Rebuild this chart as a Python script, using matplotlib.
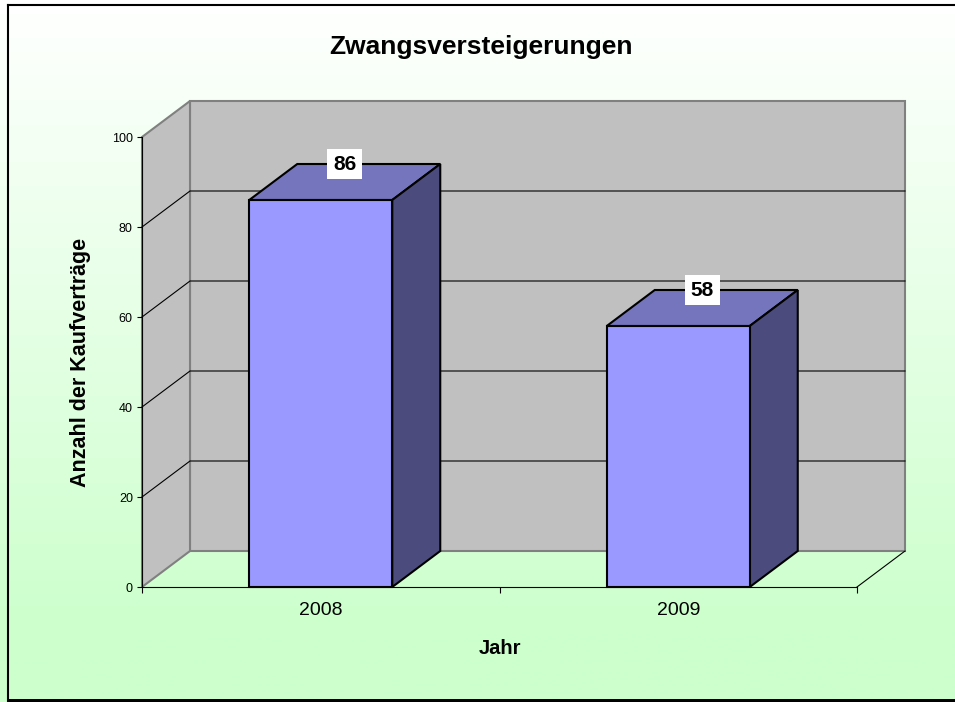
import numpy as np
import matplotlib
matplotlib.use('Agg')
import matplotlib.pyplot as plt
from matplotlib.patches import Polygon, Rectangle
from matplotlib.lines import Line2D

# ---- data ----
years = ['2008', '2009']
counts = [86, 58]
y_ticks = [0, 20, 40, 60, 80, 100]
title = 'Zwangsversteigerungen'
x_label = 'Jahr'
y_label = 'Anzahl der Kaufverträge'

plt.rcParams['font.family'] = ['Liberation Sans', 'DejaVu Sans']

W, H = 955, 702
fig = plt.figure(figsize=(W / 100, H / 100), dpi=100)

# ---- background gradient ----
bg = fig.add_axes([0, 0, 1, 1], zorder=-10)
g = np.linspace(0, 1, 256)[:, None, None]
g = np.clip(g / 0.9, 0, 1)
top_c = np.array([1.0, 1.0, 1.0])
bot_c = np.array([0xCC / 255, 1.0, 0xCC / 255])
img = top_c * (1 - g) + bot_c * g
bg.imshow(img, aspect='auto', extent=[0, 1, 0, 1], origin='upper')
bg.set_xlim(0, 1)
bg.set_ylim(0, 1)
bg.axis('off')

# chart border
fig.add_artist(Line2D([7.5 / W, 7.5 / W], [0, 1 - 4.5 / H], color='black', lw=1.5,
                      transform=fig.transFigure))
fig.add_artist(Line2D([7.5 / W, 1], [1 - 4.5 / H, 1 - 4.5 / H], color='black', lw=1.5,
                      transform=fig.transFigure))
fig.add_artist(Rectangle((7 / W, 0), 1, 3 / H, facecolor='black', edgecolor='none',
                         transform=fig.transFigure))

# ---- main axes (front plane) ----
ax = fig.add_axes([142 / W, 1 - 587 / H, 715 / W, 450 / H])
ax.set_xlim(0, len(years))
ax.set_ylim(y_ticks[0], y_ticks[-1])
ax.patch.set_visible(False)

DX = 48 / (715 / len(years))   # depth offset in category units
DY = 36 / (450 / y_ticks[-1])  # depth offset in value units
ymax = y_ticks[-1]
xmax = len(years)

wall_fc = '#C0C0C0'
wall_ec = '#808080'
# back wall
ax.add_patch(Polygon([(DX, DY), (xmax + DX, DY), (xmax + DX, ymax + DY), (DX, ymax + DY)],
                     closed=True, facecolor=wall_fc, edgecolor=wall_ec, lw=1.5,
                     clip_on=False, zorder=1))
# left wall
ax.add_patch(Polygon([(0, 0), (DX, DY), (DX, ymax + DY), (0, ymax)],
                     closed=True, facecolor=wall_fc, edgecolor=wall_ec, lw=1.5,
                     clip_on=False, zorder=1))
# gridlines
for t in y_ticks[1:-1]:
    ax.plot([0, DX, xmax + DX], [t, t + DY, t + DY], color='black', lw=0.8,
            clip_on=False, zorder=2)
# floor right edge
ax.plot([xmax, xmax + DX], [0, DY], color='black', lw=0.8, clip_on=False, zorder=2)

# ---- bars ----
xpos = np.arange(len(years)) + 0.5
bw = 0.4
front_c = '#9999FF'
top_col = '#7575BD'
side_col = '#4B4B7E'
ax.bar(xpos, counts, width=bw, color=front_c, edgecolor='black', lw=1.5, zorder=5,
       clip_on=False)
for x, v in zip(xpos, counts):
    l, r = x - bw / 2, x + bw / 2
    ax.add_patch(Polygon([(l, v), (r, v), (r + DX, v + DY), (l + DX, v + DY)], closed=True,
                         facecolor=top_col, edgecolor='black', lw=1.5, clip_on=False,
                         zorder=4, joinstyle='miter'))
    ax.add_patch(Polygon([(r, 0), (r + DX, DY), (r + DX, v + DY), (r, v)], closed=True,
                         facecolor=side_col, edgecolor='black', lw=1.5, clip_on=False,
                         zorder=4, joinstyle='miter'))
    ax.text(x + DX / 2, v + DY, str(v), ha='center', va='center', fontsize=15,
            fontweight='bold', zorder=6,
            bbox=dict(boxstyle='square,pad=0.28', facecolor='white', edgecolor='none'))

# ---- axes styling ----
for s in ['top', 'right']:
    ax.spines[s].set_visible(False)
ax.spines['left'].set_color('black')
ax.spines['bottom'].set_color('black')
ax.spines['left'].set_zorder(3)
ax.spines['bottom'].set_zorder(7)

ax.set_yticks(y_ticks)
ax.set_yticklabels([str(t) for t in y_ticks])
ax.tick_params(axis='y', direction='out', length=3.6, width=0.8, labelsize=9, pad=3)

ax.set_xticks(np.arange(len(years) + 1))
ax.set_xticklabels([''] * (len(years) + 1))
ax.set_xticks(xpos, labels=years, minor=True)
ax.tick_params(axis='x', which='major', direction='out', length=4.3, width=0.8)
ax.tick_params(axis='x', which='minor', length=0, labelsize=14, pad=11)

ax.set_xlabel(x_label, fontsize=14.5, fontweight='bold')
ax.xaxis.set_label_coords(0.5, (587 - 648) / 450)
ax.xaxis.label.set_va('center')
ax.set_ylabel(y_label, fontsize=15.5, fontweight='bold')
ax.yaxis.set_label_coords((80 - 142) / 715, 0.5)
ax.yaxis.label.set_va('center')

fig.suptitle(title, x=481 / W, y=1 - 47 / H, va='center', fontsize=19, fontweight='bold')

fig.savefig('out.png', dpi=100)
